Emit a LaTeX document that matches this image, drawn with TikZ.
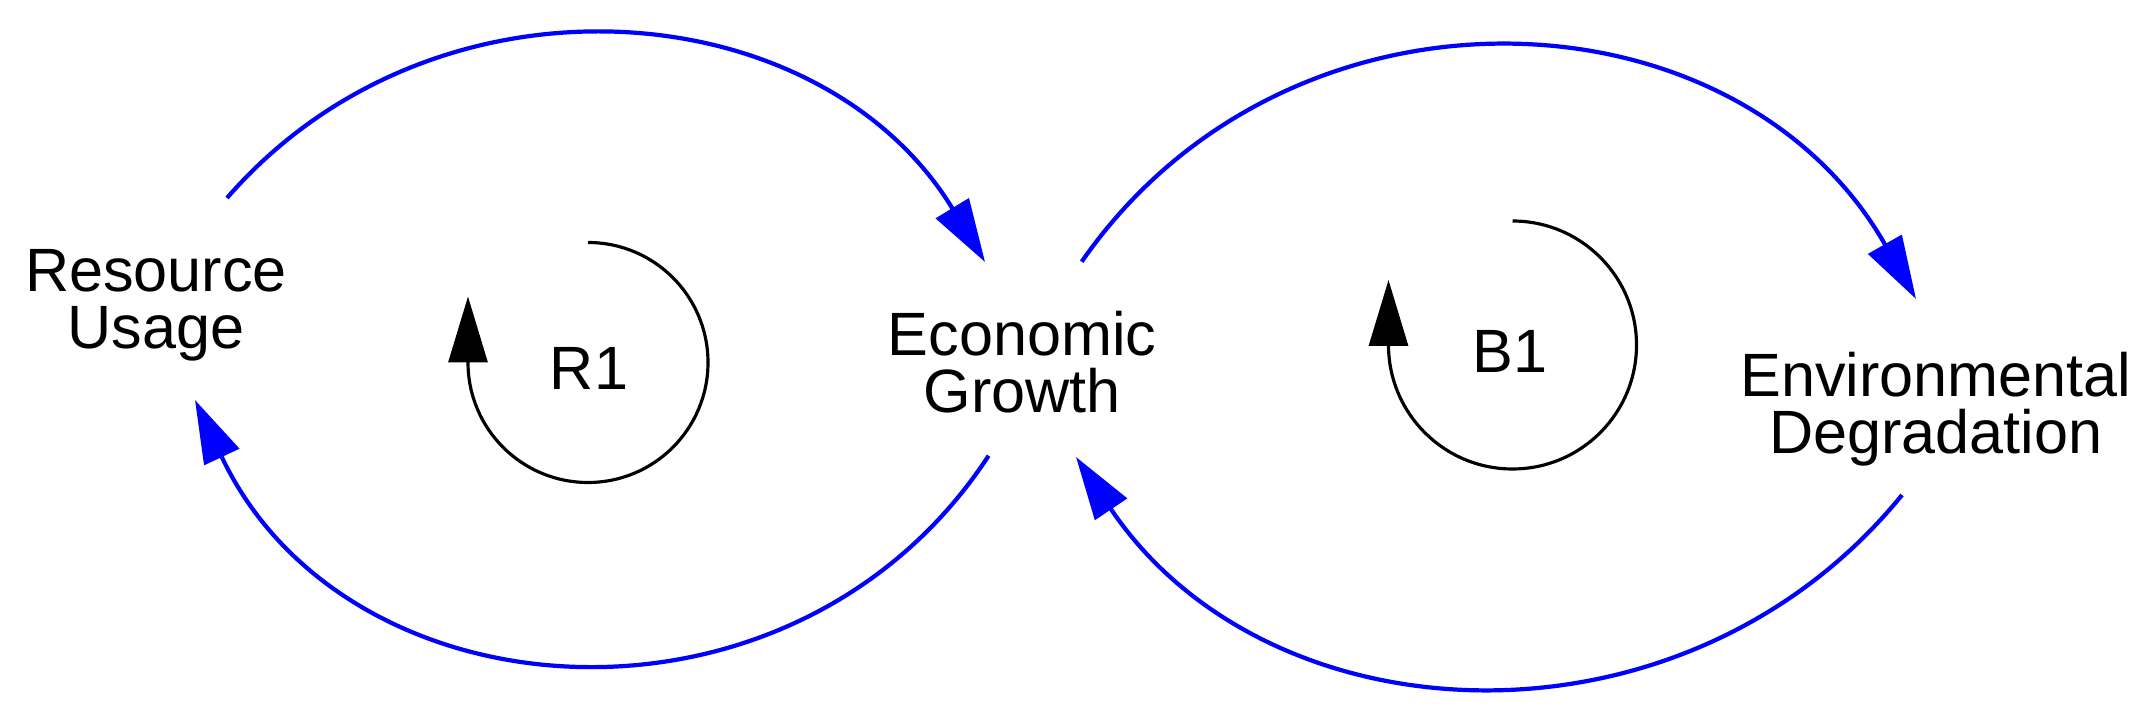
\documentclass[tikz,border=0pt]{standalone}
\usepackage{fontspec}
\setmainfont{Liberation Sans}
\usepackage{tikz}
\usetikzlibrary{arrows.meta}

\begin{document}
\begin{tikzpicture}[
    varnode/.style={font=\fontsize{17.4}{16.2}\selectfont, align=center, inner sep=0pt},
    causal/.style={blue, line width=1.2pt, -{Triangle[length=6.3mm, width=3.8mm]}},
    looparrow/.style={black, line width=0.9pt, -{Triangle[length=6.6mm, width=3.9mm]}}
]
\useasboundingbox (0,0) rectangle (21.53,7.13);
\node[varnode] (ru) at (1.56,4.08) {Resource\\Usage};
\node[varnode] (eg) at (10.22,3.505) {Economic\\Growth};
\node[varnode] (ed) at (19.36,3.04) {Environmental\\Degradation};
\node[varnode, anchor=base] (r1) at (5.89,3.23) {R1};
\node[varnode, anchor=base] (b1) at (15.10,3.40) {B1};
\draw[causal] ([shift={(0.71,1.07)}]ru.center) to[bend left=53.85, looseness=1.07] ([shift={(-0.37,1.005)}]eg.center);
\draw[causal] ([shift={(-0.334,-0.932)}]eg.center) to[bend left=60.8, looseness=1.144] ([shift={(0.39,-0.95)}]ru.center);
\draw[causal] ([shift={(0.597,1.008)}]eg.center) to[bend left=57.8, looseness=1.111] ([shift={(-0.20,1.10)}]ed.center);
\draw[causal] ([shift={(-0.34,-0.86)}]ed.center) to[bend left=53.5, looseness=1.068] ([shift={(0.54,-0.945)}]eg.center);
\draw[looparrow] (5.88,4.705) arc[start angle=90, end angle=-180, radius=1.2] -- ++(0,0.66);
\draw[looparrow] (15.125,4.92) arc[start angle=90, end angle=-180, radius=1.24] -- ++(0,0.65);
\end{tikzpicture}
\end{document}
